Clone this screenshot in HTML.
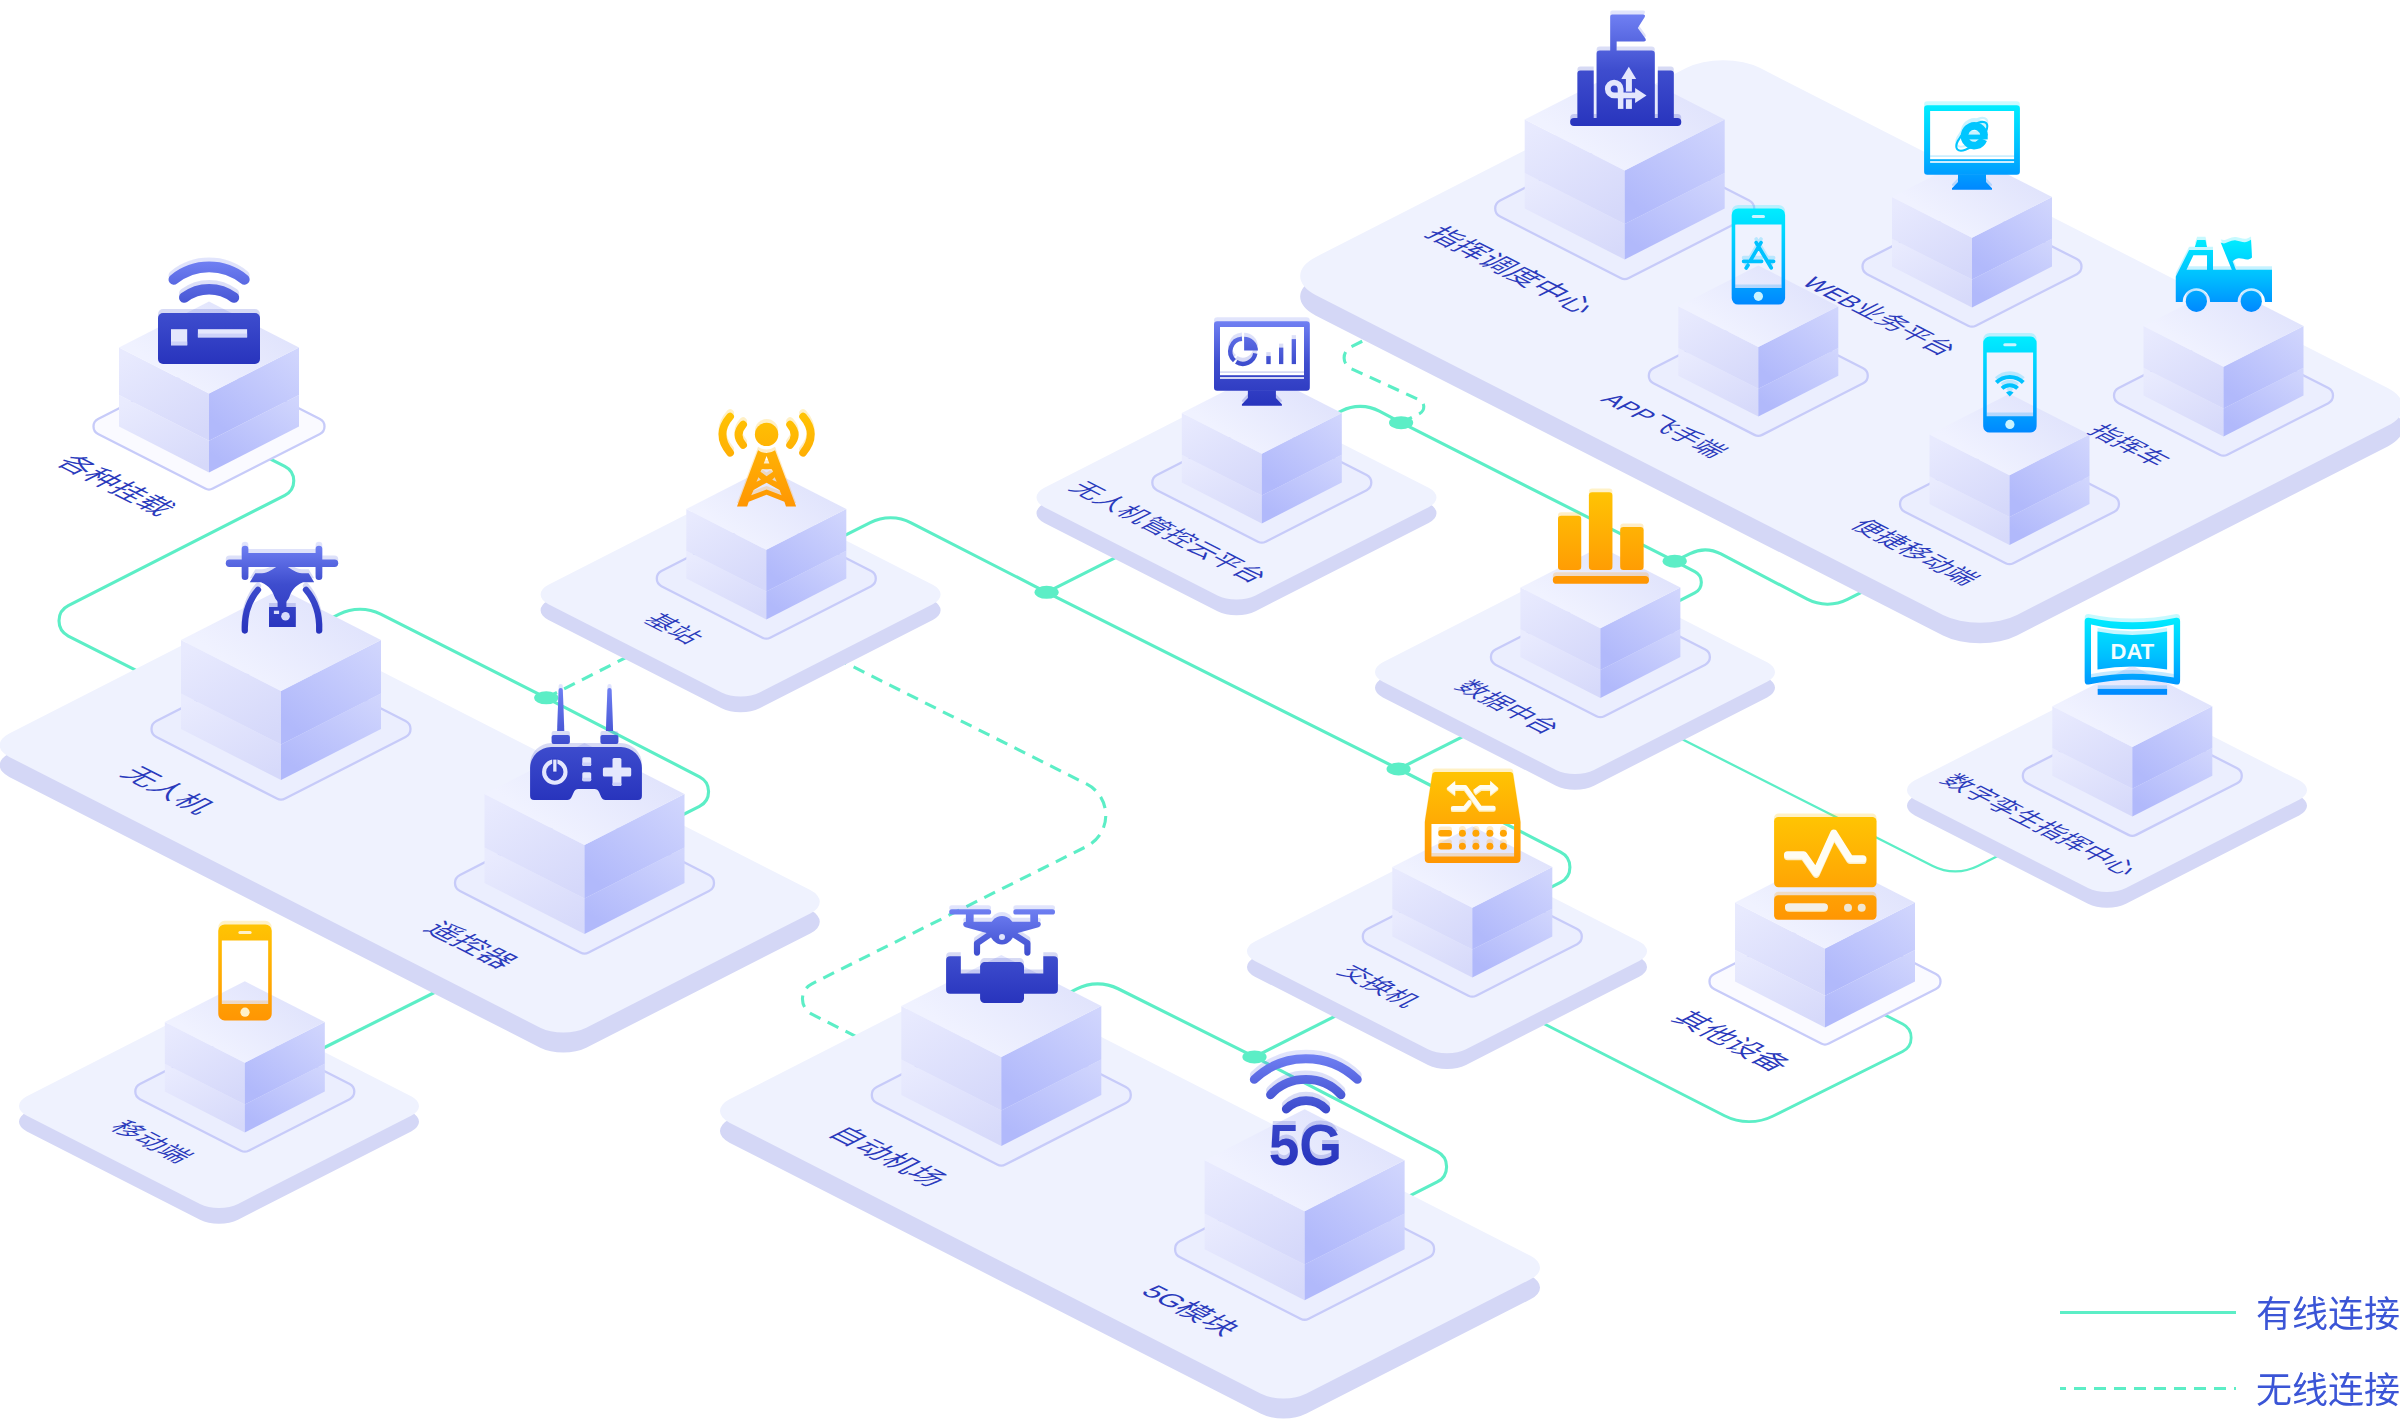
<!DOCTYPE html>
<html lang="zh"><head><meta charset="utf-8"><title>无人机网络拓扑</title>
<style>html,body{margin:0;padding:0;background:#fff}svg{display:block}text{font-family:"Liberation Sans","Noto Sans CJK SC",sans-serif}</style></head>
<body><svg width="2400" height="1420" viewBox="0 0 2400 1420">
<defs>
<filter id="fAA" x="-5%" y="-20%" width="110%" height="140%"><feOffset dx="0" dy="0"/></filter>
<linearGradient id="gT" x1="0.25" y1="0.75" x2="0.9" y2="0.3"><stop offset="0" stop-color="#f0f2ff"/><stop offset="1" stop-color="#e0e3fc"/></linearGradient>
<linearGradient id="gL" x1="0.2" y1="0" x2="0.8" y2="1"><stop offset="0" stop-color="#e8eafe"/><stop offset="1" stop-color="#d5d8fa"/></linearGradient>
<linearGradient id="gL2" x1="0.2" y1="0" x2="0.8" y2="1"><stop offset="0" stop-color="#e9ebfe"/><stop offset="1" stop-color="#d6d9fa"/></linearGradient>
<linearGradient id="gR" x1="0.9" y1="0" x2="0.2" y2="0.9"><stop offset="0" stop-color="#d0d5fd"/><stop offset="1" stop-color="#b1b9fb"/></linearGradient>
<linearGradient id="gR2" x1="0.9" y1="0" x2="0.2" y2="0.9"><stop offset="0" stop-color="#d0d5fd"/><stop offset="1" stop-color="#b1b9fb"/></linearGradient>
<linearGradient id="gi11" gradientUnits="userSpaceOnUse" x1="0" y1="14" x2="0" y2="126"><stop offset="0" stop-color="#7080f3"/><stop offset="0.5" stop-color="#3e4dce"/><stop offset="1" stop-color="#2834bd"/></linearGradient><linearGradient id="gi13" gradientUnits="userSpaceOnUse" x1="0" y1="105.2" x2="0" y2="189.8"><stop offset="0" stop-color="#00edff"/><stop offset="0.5" stop-color="#00c0ff"/><stop offset="1" stop-color="#0088ff"/></linearGradient><linearGradient id="gi12" gradientUnits="userSpaceOnUse" x1="0" y1="208.5" x2="0" y2="304.5"><stop offset="0" stop-color="#00edff"/><stop offset="0.5" stop-color="#00c0ff"/><stop offset="1" stop-color="#0088ff"/></linearGradient><linearGradient id="gi15" gradientUnits="userSpaceOnUse" x1="0" y1="239" x2="0" y2="312"><stop offset="0" stop-color="#00edff"/><stop offset="0.5" stop-color="#00c0ff"/><stop offset="1" stop-color="#0088ff"/></linearGradient><linearGradient id="gi1" gradientUnits="userSpaceOnUse" x1="0" y1="261" x2="0" y2="364"><stop offset="0" stop-color="#7080f3"/><stop offset="0.5" stop-color="#3e4dce"/><stop offset="1" stop-color="#2834bd"/></linearGradient><linearGradient id="gi6" gradientUnits="userSpaceOnUse" x1="0" y1="321.2" x2="0" y2="405.8"><stop offset="0" stop-color="#7080f3"/><stop offset="0.5" stop-color="#3e4dce"/><stop offset="1" stop-color="#2834bd"/></linearGradient><linearGradient id="gi14" gradientUnits="userSpaceOnUse" x1="0" y1="336.6" x2="0" y2="432.6"><stop offset="0" stop-color="#00edff"/><stop offset="0.5" stop-color="#00c0ff"/><stop offset="1" stop-color="#0088ff"/></linearGradient><linearGradient id="gi5" gradientUnits="userSpaceOnUse" x1="0" y1="412" x2="0" y2="507"><stop offset="0" stop-color="#ffc403"/><stop offset="0.5" stop-color="#ffad04"/><stop offset="1" stop-color="#ff9603"/></linearGradient><linearGradient id="gi7" gradientUnits="userSpaceOnUse" x1="0" y1="492" x2="0" y2="584"><stop offset="0" stop-color="#ffc403"/><stop offset="0.5" stop-color="#ffad04"/><stop offset="1" stop-color="#ff9603"/></linearGradient><linearGradient id="gi2" gradientUnits="userSpaceOnUse" x1="0" y1="545" x2="0" y2="632"><stop offset="0" stop-color="#7080f3"/><stop offset="0.45" stop-color="#3e4dce"/><stop offset="1" stop-color="#2834bd"/></linearGradient><linearGradient id="gi10" gradientUnits="userSpaceOnUse" x1="0" y1="617" x2="0" y2="695"><stop offset="0" stop-color="#00edff"/><stop offset="0.5" stop-color="#00c0ff"/><stop offset="1" stop-color="#0088ff"/></linearGradient><linearGradient id="gi3" gradientUnits="userSpaceOnUse" x1="0" y1="687" x2="0" y2="800"><stop offset="0" stop-color="#7080f3"/><stop offset="0.5" stop-color="#3e4dce"/><stop offset="1" stop-color="#2834bd"/></linearGradient><linearGradient id="gi8" gradientUnits="userSpaceOnUse" x1="0" y1="772" x2="0" y2="863"><stop offset="0" stop-color="#ffc403"/><stop offset="0.5" stop-color="#ffad04"/><stop offset="1" stop-color="#ff9603"/></linearGradient><linearGradient id="gi9" gradientUnits="userSpaceOnUse" x1="0" y1="817" x2="0" y2="920"><stop offset="0" stop-color="#ffc403"/><stop offset="0.5" stop-color="#ffad04"/><stop offset="1" stop-color="#ff9603"/></linearGradient><linearGradient id="gi16" gradientUnits="userSpaceOnUse" x1="0" y1="908" x2="0" y2="1003"><stop offset="0" stop-color="#7080f3"/><stop offset="0.5" stop-color="#3e4dce"/><stop offset="1" stop-color="#2834bd"/></linearGradient><linearGradient id="gi4" gradientUnits="userSpaceOnUse" x1="0" y1="924.4" x2="0" y2="1020.4"><stop offset="0" stop-color="#ffc403"/><stop offset="0.5" stop-color="#ffad04"/><stop offset="1" stop-color="#ff9603"/></linearGradient><linearGradient id="gi17" gradientUnits="userSpaceOnUse" x1="0" y1="1054" x2="0" y2="1166"><stop offset="0" stop-color="#7080f3"/><stop offset="0.5" stop-color="#3e4dce"/><stop offset="1" stop-color="#2834bd"/></linearGradient></defs>
<rect width="2400" height="1420" fill="#fff"/>
<!-- lines -->
<path d="M230 438.63 L284.81 466.31 A16.3 16.3 0 0 1 284.86 495.39 L68.27 605.69 A17 17 0 0 0 68.32 636.01 L150 677.26" fill="none" stroke="#5ceec6" stroke-width="3.1"/>
<path d="M310 628.95 L339.26 614.17 A46 46 0 0 1 380.74 614.18 L546.25 697.8 A0 0 0 0 1 546.25 697.8 L699.57 776.8 A16.6 16.6 0 0 1 699.45 806.37 L668 822.25" fill="none" stroke="#5ceec6" stroke-width="3.1"/>
<path d="M546.25 697.8 L700 620.16" fill="none" stroke="#5ceec6" stroke-width="3.1" stroke-dasharray="12 8"/>
<path d="M800 639.97 L1086.5 783.94 A35 35 0 0 1 1086.44 846.52 L811.87 983.77 A17 17 0 0 0 811.8 1014.15 L900 1058.69" fill="none" stroke="#5ceec6" stroke-width="3.1" stroke-dasharray="12 8"/>
<path d="M835 540.43 L870.25 522.63 A45 45 0 0 1 911.08 522.76 L1046.6 592.3 A0 0 0 0 0 1046.6 592.3 L1398.6 769 A0 0 0 0 1 1398.6 769 L1560.66 852.06 A17 17 0 0 1 1560.57 882.36 L1530 897.8" fill="none" stroke="#5ceec6" stroke-width="3.1"/>
<path d="M1046.6 592.3 L1160 535.03" fill="none" stroke="#5ceec6" stroke-width="3.1"/>
<path d="M1320 421.7 L1341.65 410.77 A41 41 0 0 1 1379.35 411.16 L1401.1 422.7 A0 0 0 0 0 1401.1 422.7 L1674.7 561.2 A0 0 0 0 1 1674.7 561.2 L1694.84 571.61 A12 12 0 0 1 1694.74 592.99 L1660 610.53" fill="none" stroke="#5ceec6" stroke-width="3.1"/>
<path d="M1674.7 561.2 L1690.07 553.59 A34 34 0 0 1 1720.95 553.94 L1807.25 599.19 A44 44 0 0 0 1847.51 599.49 L1900 572.99" fill="none" stroke="#5ceec6" stroke-width="3.1"/>
<path d="M1401.1 422.7 L1419.56 413.58 A7.6 7.6 0 0 0 1419.35 399.85 L1351.12 368.68 A12 12 0 0 1 1350.71 347.05 L1375 334.8" fill="none" stroke="#5ceec6" stroke-width="3.1" stroke-dasharray="12 8"/>
<path d="M1398.6 769 L1500 717.79" fill="none" stroke="#5ceec6" stroke-width="3.1"/>
<path d="M1254.5 1056.9 L1380 993.52" fill="none" stroke="#5ceec6" stroke-width="3.1"/>
<path d="M1050 1002.39 L1076.87 988.82 A46 46 0 0 1 1118.17 988.74 L1254.5 1056.9 A0 0 0 0 1 1254.5 1056.9 L1437.4 1151.71 A17 17 0 0 1 1437.24 1181.98 L1390 1205.83" fill="none" stroke="#5ceec6" stroke-width="3.1"/>
<path d="M300 1059.75 L470 974.75" fill="none" stroke="#5ceec6" stroke-width="3.1"/>
<path d="M1620 707.81 L1932.75 865.99 A50 50 0 0 0 1977.86 866.01 L2030 839.68" fill="none" stroke="#5ceec6" stroke-width="2.3"/>
<path d="M1490 996.22 L1724.54 1115.83 A54 54 0 0 0 1773.17 1116.05 L1902.64 1051.49 A15.4 15.4 0 0 0 1902.71 1023.97 L1830 987.25" fill="none" stroke="#5ceec6" stroke-width="2.8"/>
<ellipse cx="546.25" cy="697.8" rx="12.1" ry="6.5" fill="#5ceec6"/>
<ellipse cx="1046.6" cy="592.3" rx="12.1" ry="6.5" fill="#5ceec6"/>
<ellipse cx="1398.6" cy="769" rx="12.1" ry="6.5" fill="#5ceec6"/>
<ellipse cx="1401.1" cy="422.7" rx="12.1" ry="6.5" fill="#5ceec6"/>
<ellipse cx="1674.7" cy="561.2" rx="12.1" ry="6.5" fill="#5ceec6"/>
<ellipse cx="1254.5" cy="1056.9" rx="12.1" ry="6.5" fill="#5ceec6"/>
<rect x="-350.75" y="-222.35" width="701.5" height="444.7" rx="37" fill="#d4d7f6" transform="matrix(1 0.51 -1 0.51 1851.6 362.1)"/>
<rect x="-350.75" y="-222.35" width="701.5" height="444.7" rx="37" fill="#eff2fe" transform="matrix(1 0.51 -1 0.51 1851.6 341.5)"/>
<rect x="-288.5" y="-135" width="577" height="270" rx="23" fill="#d4d7f6" transform="matrix(1 0.51 -1 0.51 409.75 843.5)"/>
<rect x="-288.5" y="-135" width="577" height="270" rx="23" fill="#eff2fe" transform="matrix(1 0.51 -1 0.51 409.75 823.5)"/>
<rect x="-288.5" y="-135" width="577" height="270" rx="23" fill="#d4d7f6" transform="matrix(1 0.51 -1 0.51 1130 1209.3)"/>
<rect x="-288.5" y="-135" width="577" height="270" rx="23" fill="#eff2fe" transform="matrix(1 0.51 -1 0.51 1130 1189.3)"/>
<rect x="-105.57" y="-105.57" width="211.14" height="211.14" rx="19" fill="#d4d7f6" transform="matrix(1 0.51 -1 0.51 740.6 610.2)"/>
<rect x="-105.57" y="-105.57" width="211.14" height="211.14" rx="19" fill="#eff2fe" transform="matrix(1 0.51 -1 0.51 740.6 594.5)"/>
<rect x="-105.57" y="-105.57" width="211.14" height="211.14" rx="19" fill="#d4d7f6" transform="matrix(1 0.51 -1 0.51 219 1121.7)"/>
<rect x="-105.57" y="-105.57" width="211.14" height="211.14" rx="19" fill="#eff2fe" transform="matrix(1 0.51 -1 0.51 219 1106)"/>
<rect x="-105.57" y="-105.57" width="211.14" height="211.14" rx="19" fill="#d4d7f6" transform="matrix(1 0.51 -1 0.51 1236.5 513.2)"/>
<rect x="-105.57" y="-105.57" width="211.14" height="211.14" rx="19" fill="#eff2fe" transform="matrix(1 0.51 -1 0.51 1236.5 497.5)"/>
<rect x="-105.57" y="-105.57" width="211.14" height="211.14" rx="19" fill="#d4d7f6" transform="matrix(1 0.51 -1 0.51 1575 687.7)"/>
<rect x="-105.57" y="-105.57" width="211.14" height="211.14" rx="19" fill="#eff2fe" transform="matrix(1 0.51 -1 0.51 1575 672)"/>
<rect x="-105.57" y="-105.57" width="211.14" height="211.14" rx="19" fill="#d4d7f6" transform="matrix(1 0.51 -1 0.51 1447 966.95)"/>
<rect x="-105.57" y="-105.57" width="211.14" height="211.14" rx="19" fill="#eff2fe" transform="matrix(1 0.51 -1 0.51 1447 951.25)"/>
<rect x="-105.57" y="-105.57" width="211.14" height="211.14" rx="19" fill="#d4d7f6" transform="matrix(1 0.51 -1 0.51 2107 805.7)"/>
<rect x="-105.57" y="-105.57" width="211.14" height="211.14" rx="19" fill="#eff2fe" transform="matrix(1 0.51 -1 0.51 2107 790)"/>
<path d="M1620.57 138.99 A9.09 9.09 0 0 1 1628.83 138.99 L1749.24 200.4 A9.09 9.09 0 0 1 1749.24 216.6 L1628.83 278.01 A9.09 9.09 0 0 1 1620.57 278.01 L1500.16 216.6 A9.09 9.09 0 0 1 1500.16 200.4 Z" fill="#ebeefe" stroke="#c7cbf9" stroke-width="2.3"/>
<polygon points="1524.7,172.9 1624.7,223.9 1624.7,259.5 1524.7,208.5" fill="url(#gL2)"/>
<polygon points="1724.7,172.9 1624.7,223.9 1624.7,259.5 1724.7,208.5" fill="url(#gR2)"/>
<polygon points="1524.7,119.5 1624.7,170.5 1624.7,223.9 1524.7,172.9" fill="url(#gL)"/>
<polygon points="1724.7,119.5 1624.7,170.5 1624.7,223.9 1724.7,172.9" fill="url(#gR)"/>
<polygon points="1624.7,68.5 1724.7,119.5 1624.7,170.5 1524.7,119.5" fill="url(#gT)"/>
<g><g transform="translate(0,-4)" opacity="0.2"><path d="M1610.2 16.6Q1610.2 14.6 1612.2 14.6H1643Q1646 14.6 1644.6 17.2L1637.8 27.9L1645.4 38.6Q1646.8 41.6 1643.6 41.6H1616.6V51H1610.2Z" fill="url(#gi11)"/><path d="M1596.6 118.5V53.8A3.2 3.2 0 0 1 1599.8 50.6H1651.6A3.2 3.2 0 0 1 1654.8 53.8V118.5Z" fill="url(#gi11)"/><path d="M1577.4 118.5V73.5A3 3 0 0 1 1580.4 70.5H1593.7V118.5Z" fill="url(#gi11)"/><path d="M1657.8 118.5V70.5H1670.8A3 3 0 0 1 1673.8 73.5V118.5Z" fill="url(#gi11)"/><rect x="1570.1" y="118.1" width="111.2" height="7.8" rx="3.9" fill="url(#gi11)"/></g><path d="M1610.2 16.6Q1610.2 14.6 1612.2 14.6H1643Q1646 14.6 1644.6 17.2L1637.8 27.9L1645.4 38.6Q1646.8 41.6 1643.6 41.6H1616.6V51H1610.2Z" fill="url(#gi11)"/><path d="M1596.6 118.5V53.8A3.2 3.2 0 0 1 1599.8 50.6H1651.6A3.2 3.2 0 0 1 1654.8 53.8V118.5Z" fill="url(#gi11)"/><path d="M1577.4 118.5V73.5A3 3 0 0 1 1580.4 70.5H1593.7V118.5Z" fill="url(#gi11)"/><path d="M1657.8 118.5V70.5H1670.8A3 3 0 0 1 1673.8 73.5V118.5Z" fill="url(#gi11)"/><rect x="1570.1" y="118.1" width="111.2" height="7.8" rx="3.9" fill="url(#gi11)"/><rect x="1625.9" y="78" width="6" height="30.9" rx="0" fill="#e4e7fd"/><path d="M1628.8 66.8L1636.2 78.9H1621.3Z" fill="#e4e7fd"/><rect x="1617.9" y="96" width="5.5" height="12.9" rx="0" fill="#e4e7fd"/><path d="M1620.6 98.4V88.8A6.4 6.4 0 1 0 1614.2 95.4H1636" fill="none" stroke="#e4e7fd" stroke-width="5.8"/><path d="M1635.1 87.9L1646.5 95.4L1635.1 103Z" fill="#e4e7fd"/><rect x="1625.9" y="91.6" width="6" height="1" rx="0" fill="#3a48ca"/><rect x="1625.9" y="98.3" width="6" height="1" rx="0" fill="#3a48ca"/></g>
<path d="M1968.15 207.53 A8.48 8.48 0 0 1 1975.85 207.53 L2076.87 259.05 A8.48 8.48 0 0 1 2076.87 274.15 L1975.85 325.67 A8.48 8.48 0 0 1 1968.15 325.67 L1867.13 274.15 A8.48 8.48 0 0 1 1867.13 259.05 Z" fill="#ebeefe" stroke="#c7cbf9" stroke-width="2.3"/>
<polygon points="1892,238.76 1972,279.56 1972,307.4 1892,266.6" fill="url(#gL2)"/>
<polygon points="2052,238.76 1972,279.56 1972,307.4 2052,266.6" fill="url(#gR2)"/>
<polygon points="1892,197 1972,237.8 1972,279.56 1892,238.76" fill="url(#gL)"/>
<polygon points="2052,197 1972,237.8 1972,279.56 2052,238.76" fill="url(#gR)"/>
<polygon points="1972,156.2 2052,197 1972,237.8 1892,197" fill="url(#gT)"/>
<g><rect x="1930.1" y="111.1" width="84" height="51.8" rx="0" fill="#fff"/><g transform="translate(0,-4)" opacity="0.2"><path d="M1927.3 105.2H2016.7A3.2 3.2 0 0 1 2019.9 108.4V171.5A3.2 3.2 0 0 1 2016.7 174.7H1927.3A3.2 3.2 0 0 1 1924.1 171.5V108.4A3.2 3.2 0 0 1 1927.3 105.2ZM1930.1 111.1V159.2H2014.1V111.1Z M1930.1 160.9V162.9H2014.1V160.9Z" fill="url(#gi13)" fill-rule="evenodd"/><path d="M1958 174.2H1986V181.9L1992 188.2V189.8H1952V188.2L1958 181.9Z" fill="url(#gi13)"/><path d="M1983.39 139.47A9.8 9.8 0 1 1 1984.09 135.46" fill="none" stroke="#00c6ff" stroke-width="7.6"/><rect x="1966.3" y="134.6" width="21.4" height="4.8" rx="0" fill="#00c6ff"/><ellipse cx="1971.8" cy="136.3" rx="19.5" ry="8.2" fill="none" stroke="#00c6ff" stroke-width="2.1" transform="rotate(-42 1971.8 136.3)"/></g><path d="M1927.3 105.2H2016.7A3.2 3.2 0 0 1 2019.9 108.4V171.5A3.2 3.2 0 0 1 2016.7 174.7H1927.3A3.2 3.2 0 0 1 1924.1 171.5V108.4A3.2 3.2 0 0 1 1927.3 105.2ZM1930.1 111.1V159.2H2014.1V111.1Z M1930.1 160.9V162.9H2014.1V160.9Z" fill="url(#gi13)" fill-rule="evenodd"/><path d="M1958 174.2H1986V181.9L1992 188.2V189.8H1952V188.2L1958 181.9Z" fill="url(#gi13)"/><path d="M1983.39 139.47A9.8 9.8 0 1 1 1984.09 135.46" fill="none" stroke="#00c6ff" stroke-width="7.6"/><rect x="1966.3" y="134.6" width="21.4" height="4.8" rx="0" fill="#00c6ff"/><ellipse cx="1971.8" cy="136.3" rx="19.5" ry="8.2" fill="none" stroke="#00c6ff" stroke-width="2.1" transform="rotate(-42 1971.8 136.3)"/></g>
<path d="M1754.45 316.73 A8.48 8.48 0 0 1 1762.15 316.73 L1863.17 368.25 A8.48 8.48 0 0 1 1863.17 383.35 L1762.15 434.87 A8.48 8.48 0 0 1 1754.45 434.87 L1653.43 383.35 A8.48 8.48 0 0 1 1653.43 368.25 Z" fill="#ebeefe" stroke="#c7cbf9" stroke-width="2.3"/>
<polygon points="1678.3,347.96 1758.3,388.76 1758.3,416.6 1678.3,375.8" fill="url(#gL2)"/>
<polygon points="1838.3,347.96 1758.3,388.76 1758.3,416.6 1838.3,375.8" fill="url(#gR2)"/>
<polygon points="1678.3,306.2 1758.3,347 1758.3,388.76 1678.3,347.96" fill="url(#gL)"/>
<polygon points="1838.3,306.2 1758.3,347 1758.3,388.76 1838.3,347.96" fill="url(#gR)"/>
<polygon points="1758.3,265.4 1838.3,306.2 1758.3,347 1678.3,306.2" fill="url(#gT)"/>
<g><g transform="translate(0,-3.6)" opacity="0.22"><path d="M1738.1 208.5H1778.7A6.4 6.4 0 0 1 1785.1 214.9V298.1A6.4 6.4 0 0 1 1778.7 304.5H1738.1A6.4 6.4 0 0 1 1731.7 298.1V214.9A6.4 6.4 0 0 1 1738.1 208.5ZM1735.2 224.5V288.1H1781.6V224.5Z" fill="url(#gi12)" fill-rule="evenodd"/><path d="M1761 242.6L1750.2 260.9M1748 265.3L1746.2 268M1756.2 242.6L1771.2 267.8M1743.6 261.3H1761.6M1768.4 261.3H1773.6" fill="none" stroke="#00c2ff" stroke-width="3.7" stroke-linecap="round"/></g><path d="M1738.1 208.5H1778.7A6.4 6.4 0 0 1 1785.1 214.9V298.1A6.4 6.4 0 0 1 1778.7 304.5H1738.1A6.4 6.4 0 0 1 1731.7 298.1V214.9A6.4 6.4 0 0 1 1738.1 208.5ZM1735.2 224.5V288.1H1781.6V224.5Z" fill="url(#gi12)" fill-rule="evenodd"/><path d="M1761 242.6L1750.2 260.9M1748 265.3L1746.2 268M1756.2 242.6L1771.2 267.8M1743.6 261.3H1761.6M1768.4 261.3H1773.6" fill="none" stroke="#00c2ff" stroke-width="3.7" stroke-linecap="round"/><rect x="1751.8" y="215.1" width="13.2" height="3" rx="1.5" fill="#c9f4ff"/><circle cx="1758.4" cy="296.3" r="4.6" fill="#c9f4ff"/></g>
<path d="M2219.65 336.53 A8.48 8.48 0 0 1 2227.35 336.53 L2328.37 388.05 A8.48 8.48 0 0 1 2328.37 403.15 L2227.35 454.67 A8.48 8.48 0 0 1 2219.65 454.67 L2118.63 403.15 A8.48 8.48 0 0 1 2118.63 388.05 Z" fill="#ebeefe" stroke="#c7cbf9" stroke-width="2.3"/>
<polygon points="2143.5,367.76 2223.5,408.56 2223.5,436.4 2143.5,395.6" fill="url(#gL2)"/>
<polygon points="2303.5,367.76 2223.5,408.56 2223.5,436.4 2303.5,395.6" fill="url(#gR2)"/>
<polygon points="2143.5,326 2223.5,366.8 2223.5,408.56 2143.5,367.76" fill="url(#gL)"/>
<polygon points="2303.5,326 2223.5,366.8 2223.5,408.56 2303.5,367.76" fill="url(#gR)"/>
<polygon points="2223.5,285.2 2303.5,326 2223.5,366.8 2143.5,326" fill="url(#gT)"/>
<g><g transform="translate(0,-3.4)" opacity="0.22"><path d="M2197.1 240.1H2205.5L2207 246.9H2194.8Z" fill="url(#gi15)"/><path d="M2220.7 242.6C2226 245.5 2229.5 239.6 2236 240.4C2241.5 241.2 2245 244.2 2251 239.8L2252 257.4C2247.5 261.5 2243.5 258 2238.5 258.3C2235.5 258.5 2234 260.4 2232.6 261.2L2236 269.9H2231.9Z" fill="url(#gi15)"/><path d="M2175.8 301.9V276.5L2189.1 250.1H2213V269.7H2272V301.9H2265A13.7 13.7 0 0 0 2237.6 301.9H2210.1A13.7 13.7 0 0 0 2182.7 301.9ZM2193.4 255.2L2186.5 269.7H2207V255.2Z" fill="url(#gi15)" fill-rule="evenodd"/><circle cx="2196.4" cy="301.3" r="10.6" fill="url(#gi15)"/><circle cx="2251.3" cy="301.3" r="10.6" fill="url(#gi15)"/></g><path d="M2197.1 240.1H2205.5L2207 246.9H2194.8Z" fill="url(#gi15)"/><path d="M2220.7 242.6C2226 245.5 2229.5 239.6 2236 240.4C2241.5 241.2 2245 244.2 2251 239.8L2252 257.4C2247.5 261.5 2243.5 258 2238.5 258.3C2235.5 258.5 2234 260.4 2232.6 261.2L2236 269.9H2231.9Z" fill="url(#gi15)"/><path d="M2175.8 301.9V276.5L2189.1 250.1H2213V269.7H2272V301.9H2265A13.7 13.7 0 0 0 2237.6 301.9H2210.1A13.7 13.7 0 0 0 2182.7 301.9ZM2193.4 255.2L2186.5 269.7H2207V255.2Z" fill="url(#gi15)" fill-rule="evenodd"/><circle cx="2196.4" cy="301.3" r="10.6" fill="url(#gi15)"/><circle cx="2251.3" cy="301.3" r="10.6" fill="url(#gi15)"/></g>
<path d="M205.2 364.41 A8.36 8.36 0 0 1 212.8 364.41 L319.94 419.06 A8.36 8.36 0 0 1 319.94 433.94 L212.8 488.59 A8.36 8.36 0 0 1 205.2 488.59 L98.06 433.94 A8.36 8.36 0 0 1 98.06 419.06 Z" fill="#fafaff" stroke="#c7cbf9" stroke-width="2.3"/>
<polygon points="119,394.9 209,440.8 209,472.4 119,426.5" fill="url(#gL2)"/>
<polygon points="299,394.9 209,440.8 209,472.4 299,426.5" fill="url(#gR2)"/>
<polygon points="119,347.5 209,393.4 209,440.8 119,394.9" fill="url(#gL)"/>
<polygon points="299,347.5 209,393.4 209,440.8 299,394.9" fill="url(#gR)"/>
<polygon points="209,301.6 299,347.5 209,393.4 119,347.5" fill="url(#gT)"/>
<g><g transform="translate(0,-4)" opacity="0.2"><path d="M173.8 279.5A55.75 55.75 0 0 1 244.4 279.5" fill="none" stroke="url(#gi1)" stroke-width="10.6" stroke-linecap="round"/><path d="M184.3 297.5A41.2 41.2 0 0 1 233.9 297.5" fill="none" stroke="url(#gi1)" stroke-width="10.6" stroke-linecap="round"/><rect x="158" y="313" width="102" height="51" rx="5" fill="url(#gi1)"/></g><path d="M173.8 279.5A55.75 55.75 0 0 1 244.4 279.5" fill="none" stroke="url(#gi1)" stroke-width="10.6" stroke-linecap="round"/><path d="M184.3 297.5A41.2 41.2 0 0 1 233.9 297.5" fill="none" stroke="url(#gi1)" stroke-width="10.6" stroke-linecap="round"/><rect x="158" y="313" width="102" height="51" rx="5" fill="url(#gi1)"/><rect x="171" y="329.2" width="16.2" height="16.1" rx="0" fill="#e4e7fd"/><rect x="171" y="341.5" width="16.2" height="3.8" rx="0" fill="#cdd2f9"/><rect x="197.9" y="329.2" width="49.2" height="8.2" rx="0" fill="#e4e7fd"/><rect x="197.9" y="333.6" width="49.2" height="3.8" rx="0" fill="#cdd2f9"/></g>
<path d="M1257.95 423.53 A8.48 8.48 0 0 1 1265.65 423.53 L1366.67 475.05 A8.48 8.48 0 0 1 1366.67 490.15 L1265.65 541.67 A8.48 8.48 0 0 1 1257.95 541.67 L1156.93 490.15 A8.48 8.48 0 0 1 1156.93 475.05 Z" fill="#ebeefe" stroke="#c7cbf9" stroke-width="2.3"/>
<polygon points="1181.8,454.76 1261.8,495.56 1261.8,523.4 1181.8,482.6" fill="url(#gL2)"/>
<polygon points="1341.8,454.76 1261.8,495.56 1261.8,523.4 1341.8,482.6" fill="url(#gR2)"/>
<polygon points="1181.8,413 1261.8,453.8 1261.8,495.56 1181.8,454.76" fill="url(#gL)"/>
<polygon points="1341.8,413 1261.8,453.8 1261.8,495.56 1341.8,454.76" fill="url(#gR)"/>
<polygon points="1261.8,372.2 1341.8,413 1261.8,453.8 1181.8,413" fill="url(#gT)"/>
<g><rect x="1220" y="327.1" width="84" height="51.8" rx="0" fill="#fff"/><g transform="translate(0,-4)" opacity="0.2"><path d="M1217.2 321.2H1306.6A3.2 3.2 0 0 1 1309.8 324.4V387.5A3.2 3.2 0 0 1 1306.6 390.7H1217.2A3.2 3.2 0 0 1 1214 387.5V324.4A3.2 3.2 0 0 1 1217.2 321.2ZM1220 327.1V375.2H1304V327.1Z M1220 376.9V378.9H1304V376.9Z" fill="url(#gi6)" fill-rule="evenodd"/><path d="M1247.9 390.2H1275.9V397.9L1281.9 404.2V405.8H1241.9V404.2L1247.9 397.9Z" fill="url(#gi6)"/><path d="M1255.31 353.49A12.6 12.6 0 0 1 1236.22 361.99" fill="none" stroke="url(#gi6)" stroke-width="4.4"/><path d="M1234.47 360.66A12.6 12.6 0 0 1 1242.02 338.73" fill="none" stroke="url(#gi6)" stroke-width="4.4"/><path d="M1244.1 350.6V336.8A13.8 13.8 0 0 1 1257.9 350.6Z" fill="url(#gi6)"/><rect x="1266.3" y="356.1" width="4.4" height="8" rx="0" fill="url(#gi6)"/><rect x="1279" y="347.6" width="4.3" height="16.5" rx="0" fill="url(#gi6)"/><rect x="1291.7" y="339.1" width="4.3" height="25" rx="0" fill="url(#gi6)"/></g><path d="M1217.2 321.2H1306.6A3.2 3.2 0 0 1 1309.8 324.4V387.5A3.2 3.2 0 0 1 1306.6 390.7H1217.2A3.2 3.2 0 0 1 1214 387.5V324.4A3.2 3.2 0 0 1 1217.2 321.2ZM1220 327.1V375.2H1304V327.1Z M1220 376.9V378.9H1304V376.9Z" fill="url(#gi6)" fill-rule="evenodd"/><path d="M1247.9 390.2H1275.9V397.9L1281.9 404.2V405.8H1241.9V404.2L1247.9 397.9Z" fill="url(#gi6)"/><path d="M1255.31 353.49A12.6 12.6 0 0 1 1236.22 361.99" fill="none" stroke="url(#gi6)" stroke-width="4.4"/><path d="M1234.47 360.66A12.6 12.6 0 0 1 1242.02 338.73" fill="none" stroke="url(#gi6)" stroke-width="4.4"/><path d="M1244.1 350.6V336.8A13.8 13.8 0 0 1 1257.9 350.6Z" fill="url(#gi6)"/><rect x="1266.3" y="356.1" width="4.4" height="8" rx="0" fill="url(#gi6)"/><rect x="1279" y="347.6" width="4.3" height="16.5" rx="0" fill="url(#gi6)"/><rect x="1291.7" y="339.1" width="4.3" height="25" rx="0" fill="url(#gi6)"/></g>
<path d="M2005.65 445.03 A8.48 8.48 0 0 1 2013.35 445.03 L2114.37 496.55 A8.48 8.48 0 0 1 2114.37 511.65 L2013.35 563.17 A8.48 8.48 0 0 1 2005.65 563.17 L1904.63 511.65 A8.48 8.48 0 0 1 1904.63 496.55 Z" fill="#ebeefe" stroke="#c7cbf9" stroke-width="2.3"/>
<polygon points="1929.5,476.26 2009.5,517.06 2009.5,544.9 1929.5,504.1" fill="url(#gL2)"/>
<polygon points="2089.5,476.26 2009.5,517.06 2009.5,544.9 2089.5,504.1" fill="url(#gR2)"/>
<polygon points="1929.5,434.5 2009.5,475.3 2009.5,517.06 1929.5,476.26" fill="url(#gL)"/>
<polygon points="2089.5,434.5 2009.5,475.3 2009.5,517.06 2089.5,476.26" fill="url(#gR)"/>
<polygon points="2009.5,393.7 2089.5,434.5 2009.5,475.3 1929.5,434.5" fill="url(#gT)"/>
<g><g transform="translate(0,-3.6)" opacity="0.22"><path d="M1989.6 336.6H2030.2A6.4 6.4 0 0 1 2036.6 343V426.2A6.4 6.4 0 0 1 2030.2 432.6H1989.6A6.4 6.4 0 0 1 1983.2 426.2V343A6.4 6.4 0 0 1 1989.6 336.6ZM1986.7 352.6V416.2H2033.1V352.6Z" fill="url(#gi14)" fill-rule="evenodd"/><path d="M1996.32 382.44A19.4 19.4 0 0 1 2023.28 382.44" fill="none" stroke="#00c2ff" stroke-width="4.1"/><path d="M2002.02 388.34A11.2 11.2 0 0 1 2017.58 388.34" fill="none" stroke="#00c2ff" stroke-width="3.9"/><path d="M2006.05 392.52A5.4 5.4 0 0 1 2013.55 392.52L2009.8 396.4Z" fill="#00c2ff"/></g><path d="M1989.6 336.6H2030.2A6.4 6.4 0 0 1 2036.6 343V426.2A6.4 6.4 0 0 1 2030.2 432.6H1989.6A6.4 6.4 0 0 1 1983.2 426.2V343A6.4 6.4 0 0 1 1989.6 336.6ZM1986.7 352.6V416.2H2033.1V352.6Z" fill="url(#gi14)" fill-rule="evenodd"/><path d="M1996.32 382.44A19.4 19.4 0 0 1 2023.28 382.44" fill="none" stroke="#00c2ff" stroke-width="4.1"/><path d="M2002.02 388.34A11.2 11.2 0 0 1 2017.58 388.34" fill="none" stroke="#00c2ff" stroke-width="3.9"/><path d="M2006.05 392.52A5.4 5.4 0 0 1 2013.55 392.52L2009.8 396.4Z" fill="#00c2ff"/><rect x="2003.3" y="343.2" width="13.2" height="3" rx="1.5" fill="#c9f4ff"/><circle cx="2009.9" cy="424.4" r="4.6" fill="#c9f4ff"/></g>
<path d="M762.45 519.53 A8.48 8.48 0 0 1 770.15 519.53 L871.17 571.05 A8.48 8.48 0 0 1 871.17 586.15 L770.15 637.67 A8.48 8.48 0 0 1 762.45 637.67 L661.43 586.15 A8.48 8.48 0 0 1 661.43 571.05 Z" fill="#ebeefe" stroke="#c7cbf9" stroke-width="2.3"/>
<polygon points="686.3,550.76 766.3,591.56 766.3,619.4 686.3,578.6" fill="url(#gL2)"/>
<polygon points="846.3,550.76 766.3,591.56 766.3,619.4 846.3,578.6" fill="url(#gR2)"/>
<polygon points="686.3,509 766.3,549.8 766.3,591.56 686.3,550.76" fill="url(#gL)"/>
<polygon points="846.3,509 766.3,549.8 766.3,591.56 846.3,550.76" fill="url(#gR)"/>
<polygon points="766.3,468.2 846.3,509 766.3,549.8 686.3,509" fill="url(#gT)"/>
<g><g transform="translate(0,-3.6)" opacity="0.22"><circle cx="766.6" cy="434.4" r="11.7" fill="url(#gi5)"/><path d="M758.06 450.23Q766.57 455.9 775.07 450.23L796.14 506.53L786.01 506.53L784.39 501.67L766.57 494.78L748.75 501.67L747.13 506.53L737 506.53ZM766.57 455.9L769.4 463.59L763.73 463.59ZM761.71 469.26L771.83 469.26L773.05 471.69L766.57 476.15L760.49 471.69ZM758.47 477.37L760.9 479.8L756.44 481.82ZM774.67 477.37L772.24 479.8L776.69 481.82ZM766.57 482.63L779.53 489.92L781.56 495.19L766.57 489.52L751.18 495.19L753.61 489.92Z" fill="url(#gi5)" fill-rule="evenodd"/><path d="M743.1 424.7Q734 434.8 743.1 445" fill="none" stroke="url(#gi5)" stroke-width="7.7" stroke-linecap="round"/><path d="M790.1 424.7Q799.2 434.8 790.1 445" fill="none" stroke="url(#gi5)" stroke-width="7.7" stroke-linecap="round"/><path d="M730.1 416.6Q714.7 434.5 730.1 452.7" fill="none" stroke="url(#gi5)" stroke-width="7.7" stroke-linecap="round"/><path d="M803.1 416.6Q818.5 434.5 803.1 452.7" fill="none" stroke="url(#gi5)" stroke-width="7.7" stroke-linecap="round"/></g><circle cx="766.6" cy="434.4" r="11.7" fill="url(#gi5)"/><path d="M758.06 450.23Q766.57 455.9 775.07 450.23L796.14 506.53L786.01 506.53L784.39 501.67L766.57 494.78L748.75 501.67L747.13 506.53L737 506.53ZM766.57 455.9L769.4 463.59L763.73 463.59ZM761.71 469.26L771.83 469.26L773.05 471.69L766.57 476.15L760.49 471.69ZM758.47 477.37L760.9 479.8L756.44 481.82ZM774.67 477.37L772.24 479.8L776.69 481.82ZM766.57 482.63L779.53 489.92L781.56 495.19L766.57 489.52L751.18 495.19L753.61 489.92Z" fill="url(#gi5)" fill-rule="evenodd"/><path d="M743.1 424.7Q734 434.8 743.1 445" fill="none" stroke="url(#gi5)" stroke-width="7.7" stroke-linecap="round"/><path d="M790.1 424.7Q799.2 434.8 790.1 445" fill="none" stroke="url(#gi5)" stroke-width="7.7" stroke-linecap="round"/><path d="M730.1 416.6Q714.7 434.5 730.1 452.7" fill="none" stroke="url(#gi5)" stroke-width="7.7" stroke-linecap="round"/><path d="M803.1 416.6Q818.5 434.5 803.1 452.7" fill="none" stroke="url(#gi5)" stroke-width="7.7" stroke-linecap="round"/></g>
<path d="M1596.55 598.03 A8.48 8.48 0 0 1 1604.25 598.03 L1705.27 649.55 A8.48 8.48 0 0 1 1705.27 664.65 L1604.25 716.17 A8.48 8.48 0 0 1 1596.55 716.17 L1495.53 664.65 A8.48 8.48 0 0 1 1495.53 649.55 Z" fill="#ebeefe" stroke="#c7cbf9" stroke-width="2.3"/>
<polygon points="1520.4,629.26 1600.4,670.06 1600.4,697.9 1520.4,657.1" fill="url(#gL2)"/>
<polygon points="1680.4,629.26 1600.4,670.06 1600.4,697.9 1680.4,657.1" fill="url(#gR2)"/>
<polygon points="1520.4,587.5 1600.4,628.3 1600.4,670.06 1520.4,629.26" fill="url(#gL)"/>
<polygon points="1680.4,587.5 1600.4,628.3 1600.4,670.06 1680.4,629.26" fill="url(#gR)"/>
<polygon points="1600.4,546.7 1680.4,587.5 1600.4,628.3 1520.4,587.5" fill="url(#gT)"/>
<g><g transform="translate(0,-3.6)" opacity="0.22"><rect x="1558" y="515.8" width="23.2" height="54.2" rx="3.2" fill="url(#gi7)"/><rect x="1588.9" y="492.2" width="23.5" height="77.8" rx="3.2" fill="url(#gi7)"/><rect x="1620.2" y="527.1" width="23.4" height="42.9" rx="3.2" fill="url(#gi7)"/><rect x="1552.8" y="575.9" width="96.2" height="7.9" rx="3.9" fill="url(#gi7)"/></g><rect x="1558" y="515.8" width="23.2" height="54.2" rx="3.2" fill="url(#gi7)"/><rect x="1588.9" y="492.2" width="23.5" height="77.8" rx="3.2" fill="url(#gi7)"/><rect x="1620.2" y="527.1" width="23.4" height="42.9" rx="3.2" fill="url(#gi7)"/><rect x="1552.8" y="575.9" width="96.2" height="7.9" rx="3.9" fill="url(#gi7)"/></g>
<path d="M276.87 659.49 A9.09 9.09 0 0 1 285.13 659.49 L405.54 720.9 A9.09 9.09 0 0 1 405.54 737.1 L285.13 798.51 A9.09 9.09 0 0 1 276.87 798.51 L156.46 737.1 A9.09 9.09 0 0 1 156.46 720.9 Z" fill="#ebeefe" stroke="#c7cbf9" stroke-width="2.3"/>
<polygon points="181,693.4 281,744.4 281,780 181,729" fill="url(#gL2)"/>
<polygon points="381,693.4 281,744.4 281,780 381,729" fill="url(#gR2)"/>
<polygon points="181,640 281,691 281,744.4 181,693.4" fill="url(#gL)"/>
<polygon points="381,640 281,691 281,744.4 381,693.4" fill="url(#gR)"/>
<polygon points="281,589 381,640 281,691 181,640" fill="url(#gT)"/>
<g><g transform="translate(0,-4)" opacity="0.2"><rect x="225.8" y="559.6" width="112.4" height="7.3" rx="3.6" fill="url(#gi2)"/><rect x="248" y="553" width="68" height="8" rx="0" fill="url(#gi2)"/><rect x="241.7" y="545.8" width="6.7" height="34.2" rx="3.3" fill="url(#gi2)"/><rect x="315.6" y="545.8" width="6.7" height="34.2" rx="3.3" fill="url(#gi2)"/><path d="M278.0 566 C272.0 569 268.0 573.3 262.0 573.3 L255.3 573.3 L249.8 582.2 L261.0 582.2 C270.0 586 273.0 592 274.6 597 C275.5 600 277.4 600.6 277.6 602 L277.6 607 L286.4 607 L286.4 602 C286.6 600.6 288.5 600 289.4 597 C291.0 592 294.0 586 303.0 582.2 L314.2 582.2 L308.7 573.3 L302.0 573.3 C296.0 573.3 292.0 569 286.0 566 Z" fill="url(#gi2)"/><path d="M258 589.8Q244 606 244.8 630.5" fill="none" stroke="url(#gi2)" stroke-width="6.3" stroke-linecap="round"/><path d="M306 589.8Q320 606 319.2 630.5" fill="none" stroke="url(#gi2)" stroke-width="6.3" stroke-linecap="round"/><rect x="269" y="607" width="26.8" height="20" rx="0" fill="url(#gi2)"/></g><rect x="225.8" y="559.6" width="112.4" height="7.3" rx="3.6" fill="url(#gi2)"/><rect x="248" y="553" width="68" height="8" rx="0" fill="url(#gi2)"/><rect x="241.7" y="545.8" width="6.7" height="34.2" rx="3.3" fill="url(#gi2)"/><rect x="315.6" y="545.8" width="6.7" height="34.2" rx="3.3" fill="url(#gi2)"/><path d="M278.0 566 C272.0 569 268.0 573.3 262.0 573.3 L255.3 573.3 L249.8 582.2 L261.0 582.2 C270.0 586 273.0 592 274.6 597 C275.5 600 277.4 600.6 277.6 602 L277.6 607 L286.4 607 L286.4 602 C286.6 600.6 288.5 600 289.4 597 C291.0 592 294.0 586 303.0 582.2 L314.2 582.2 L308.7 573.3 L302.0 573.3 C296.0 573.3 292.0 569 286.0 566 Z" fill="url(#gi2)"/><path d="M258 589.8Q244 606 244.8 630.5" fill="none" stroke="url(#gi2)" stroke-width="6.3" stroke-linecap="round"/><path d="M306 589.8Q320 606 319.2 630.5" fill="none" stroke="url(#gi2)" stroke-width="6.3" stroke-linecap="round"/><rect x="269" y="607" width="26.8" height="20" rx="0" fill="url(#gi2)"/><rect x="273.9" y="610.7" width="5.2" height="3.3" rx="0" fill="#d9ddfb"/><circle cx="285.5" cy="616.2" r="4.3" fill="#d9ddfb"/></g>
<path d="M2128.45 716.73 A8.48 8.48 0 0 1 2136.15 716.73 L2237.17 768.25 A8.48 8.48 0 0 1 2237.17 783.35 L2136.15 834.87 A8.48 8.48 0 0 1 2128.45 834.87 L2027.43 783.35 A8.48 8.48 0 0 1 2027.43 768.25 Z" fill="#ebeefe" stroke="#c7cbf9" stroke-width="2.3"/>
<polygon points="2052.3,747.96 2132.3,788.76 2132.3,816.6 2052.3,775.8" fill="url(#gL2)"/>
<polygon points="2212.3,747.96 2132.3,788.76 2132.3,816.6 2212.3,775.8" fill="url(#gR2)"/>
<polygon points="2052.3,706.2 2132.3,747 2132.3,788.76 2052.3,747.96" fill="url(#gL)"/>
<polygon points="2212.3,706.2 2132.3,747 2132.3,788.76 2212.3,747.96" fill="url(#gR)"/>
<polygon points="2132.3,665.4 2212.3,706.2 2132.3,747 2052.3,706.2" fill="url(#gT)"/>
<g><g transform="translate(0,-3.6)" opacity="0.22"><path d="M2084.7 621.3Q2084.7 617.3 2088.7 617.7Q2132.4 626.7 2176.1 617.7Q2180.1 617.3 2180.1 621.3V680.9Q2180.1 684.9 2176.1 684.5Q2132.4 675.1 2088.7 684.5Q2084.7 684.9 2084.7 680.9ZM2091 624.4Q2132.4 634.2 2173.8 624.4V677.5Q2132.4 669.9 2091 677.5Z" fill="url(#gi10)" fill-rule="evenodd"/><path d="M2097.5 631.4Q2132.3 638.4 2167.1 631.4V669.4Q2132.3 663.8 2097.5 669.4Z" fill="url(#gi10)"/><rect x="2097.7" y="688.9" width="69.4" height="5.9" rx="0" fill="url(#gi10)"/></g><path d="M2084.7 621.3Q2084.7 617.3 2088.7 617.7Q2132.4 626.7 2176.1 617.7Q2180.1 617.3 2180.1 621.3V680.9Q2180.1 684.9 2176.1 684.5Q2132.4 675.1 2088.7 684.5Q2084.7 684.9 2084.7 680.9ZM2091 624.4Q2132.4 634.2 2173.8 624.4V677.5Q2132.4 669.9 2091 677.5Z" fill="url(#gi10)" fill-rule="evenodd"/><path d="M2097.5 631.4Q2132.3 638.4 2167.1 631.4V669.4Q2132.3 663.8 2097.5 669.4Z" fill="url(#gi10)"/><rect x="2097.7" y="688.9" width="69.4" height="5.9" rx="0" fill="url(#gi10)"/><text x="2132.4" y="658.8" font-size="22" font-weight="700" fill="#f2fdff" text-anchor="middle" textLength="43.6" lengthAdjust="spacingAndGlyphs">DAT</text></g>
<path d="M580.37 813.49 A9.09 9.09 0 0 1 588.63 813.49 L709.04 874.9 A9.09 9.09 0 0 1 709.04 891.1 L588.63 952.51 A9.09 9.09 0 0 1 580.37 952.51 L459.96 891.1 A9.09 9.09 0 0 1 459.96 874.9 Z" fill="#ebeefe" stroke="#c7cbf9" stroke-width="2.3"/>
<polygon points="484.5,847.4 584.5,898.4 584.5,934 484.5,883" fill="url(#gL2)"/>
<polygon points="684.5,847.4 584.5,898.4 584.5,934 684.5,883" fill="url(#gR2)"/>
<polygon points="484.5,794 584.5,845 584.5,898.4 484.5,847.4" fill="url(#gL)"/>
<polygon points="684.5,794 584.5,845 584.5,898.4 684.5,847.4" fill="url(#gR)"/>
<polygon points="584.5,743 684.5,794 584.5,845 484.5,794" fill="url(#gT)"/>
<g><g transform="translate(0,-4)" opacity="0.2"><path d="M530.1 796 L530.1 768 A21 21 0 0 1 551.1 747.1 L620.9 747.1 A21 21 0 0 1 641.9 768 L641.9 796 A4 4 0 0 1 637.9 800 L605.5 800 Q602.5 800 601.2 797 L599 792 Q597.6 789 594.6 789 L578.2 789 Q575.2 789 573.9 792 L571.6 797 Q570.3 800 567.3 800 L534.1 800 A4 4 0 0 1 530.1 796 Z" fill="url(#gi3)"/><rect x="551.6" y="735" width="18.3" height="8.9" rx="2" fill="url(#gi3)"/><rect x="600.4" y="735" width="18" height="8.9" rx="2" fill="url(#gi3)"/><path d="M557.1 731 L558.6 690 A2.1 2.1 0 0 1 562.8 690 L564.3 731 Z" fill="url(#gi3)"/><path d="M605.9 731 L607.4 690 A2.1 2.1 0 0 1 611.6 690 L613.1 731 Z" fill="url(#gi3)"/></g><path d="M530.1 796 L530.1 768 A21 21 0 0 1 551.1 747.1 L620.9 747.1 A21 21 0 0 1 641.9 768 L641.9 796 A4 4 0 0 1 637.9 800 L605.5 800 Q602.5 800 601.2 797 L599 792 Q597.6 789 594.6 789 L578.2 789 Q575.2 789 573.9 792 L571.6 797 Q570.3 800 567.3 800 L534.1 800 A4 4 0 0 1 530.1 796 Z" fill="url(#gi3)"/><rect x="551.6" y="735" width="18.3" height="8.9" rx="2" fill="url(#gi3)"/><rect x="600.4" y="735" width="18" height="8.9" rx="2" fill="url(#gi3)"/><path d="M557.1 731 L558.6 690 A2.1 2.1 0 0 1 562.8 690 L564.3 731 Z" fill="url(#gi3)"/><path d="M605.9 731 L607.4 690 A2.1 2.1 0 0 1 611.6 690 L613.1 731 Z" fill="url(#gi3)"/><circle cx="554.8" cy="772" r="10.7" fill="none" stroke="#e4e7fd" stroke-width="4.1"/><rect x="552.2" y="758.5" width="5.2" height="14.1" rx="0" fill="#2f3dc4"/><rect x="553.2" y="759.6" width="3.3" height="12" rx="0" fill="#e4e7fd"/><rect x="582.3" y="757.2" width="8.9" height="8.9" rx="1.5" fill="#e4e7fd"/><rect x="582.3" y="772.2" width="8.9" height="9" rx="1.5" fill="#e4e7fd"/><rect x="602.9" y="767.6" width="28.3" height="9" rx="1.5" fill="#e4e7fd"/><rect x="612.5" y="758.1" width="8.9" height="27.9" rx="1.5" fill="#e4e7fd"/><rect x="582.3" y="762.6" width="8.9" height="3.5" rx="1.5" fill="#cdd2f9"/><rect x="582.3" y="777.7" width="8.9" height="3.5" rx="1.5" fill="#cdd2f9"/><rect x="612.5" y="782.6" width="8.9" height="3.4" rx="1.5" fill="#cdd2f9"/></g>
<path d="M1468.45 877.53 A8.48 8.48 0 0 1 1476.15 877.53 L1577.17 929.05 A8.48 8.48 0 0 1 1577.17 944.15 L1476.15 995.67 A8.48 8.48 0 0 1 1468.45 995.67 L1367.43 944.15 A8.48 8.48 0 0 1 1367.43 929.05 Z" fill="#ebeefe" stroke="#c7cbf9" stroke-width="2.3"/>
<polygon points="1392.3,908.76 1472.3,949.56 1472.3,977.4 1392.3,936.6" fill="url(#gL2)"/>
<polygon points="1552.3,908.76 1472.3,949.56 1472.3,977.4 1552.3,936.6" fill="url(#gR2)"/>
<polygon points="1392.3,867 1472.3,907.8 1472.3,949.56 1392.3,908.76" fill="url(#gL)"/>
<polygon points="1552.3,867 1472.3,907.8 1472.3,949.56 1552.3,908.76" fill="url(#gR)"/>
<polygon points="1472.3,826.2 1552.3,867 1472.3,907.8 1392.3,867" fill="url(#gT)"/>
<g><g transform="translate(0,-3.6)" opacity="0.22"><path d="M1435.3 772H1510.1Q1512.8 772 1513.2 774.8L1520.5 822V858.9A4 4 0 0 1 1516.5 862.9H1428.8A4 4 0 0 1 1424.8 858.9V822L1432.2 774.8Q1432.6 772 1435.3 772ZM1431.4 823.9V856.5H1514.1V823.9Z" fill="url(#gi8)" fill-rule="evenodd"/><rect x="1438.3" y="830" width="13.6" height="6.4" rx="2.6" fill="url(#gi8)"/><circle cx="1462.4" cy="833.2" r="3.5" fill="url(#gi8)"/><circle cx="1475.9" cy="833.2" r="3.5" fill="url(#gi8)"/><circle cx="1489.9" cy="833.2" r="3.5" fill="url(#gi8)"/><circle cx="1503.4" cy="833.2" r="3.5" fill="url(#gi8)"/><rect x="1438.3" y="843" width="13.6" height="6.4" rx="2.6" fill="url(#gi8)"/><circle cx="1462.4" cy="846.2" r="3.5" fill="url(#gi8)"/><circle cx="1475.9" cy="846.2" r="3.5" fill="url(#gi8)"/><circle cx="1489.9" cy="846.2" r="3.5" fill="url(#gi8)"/><circle cx="1503.4" cy="846.2" r="3.5" fill="url(#gi8)"/></g><path d="M1435.3 772H1510.1Q1512.8 772 1513.2 774.8L1520.5 822V858.9A4 4 0 0 1 1516.5 862.9H1428.8A4 4 0 0 1 1424.8 858.9V822L1432.2 774.8Q1432.6 772 1435.3 772ZM1431.4 823.9V856.5H1514.1V823.9Z" fill="url(#gi8)" fill-rule="evenodd"/><rect x="1438.3" y="830" width="13.6" height="6.4" rx="2.6" fill="url(#gi8)"/><circle cx="1462.4" cy="833.2" r="3.5" fill="url(#gi8)"/><circle cx="1475.9" cy="833.2" r="3.5" fill="url(#gi8)"/><circle cx="1489.9" cy="833.2" r="3.5" fill="url(#gi8)"/><circle cx="1503.4" cy="833.2" r="3.5" fill="url(#gi8)"/><rect x="1438.3" y="843" width="13.6" height="6.4" rx="2.6" fill="url(#gi8)"/><circle cx="1462.4" cy="846.2" r="3.5" fill="url(#gi8)"/><circle cx="1475.9" cy="846.2" r="3.5" fill="url(#gi8)"/><circle cx="1489.9" cy="846.2" r="3.5" fill="url(#gi8)"/><circle cx="1503.4" cy="846.2" r="3.5" fill="url(#gi8)"/><g transform="translate(0,1.6)"><path d="M1454.5 787.3H1465.3L1480.3 808H1493.5" fill="none" stroke="#ffefc0" stroke-width="4.4" stroke-linejoin="round" stroke-linecap="round"/><path d="M1453 808.3H1464.5L1469.4 802.3" fill="none" stroke="#ffefc0" stroke-width="4.4" stroke-linejoin="round" stroke-linecap="round"/><path d="M1474.4 791.8L1480.4 787.3H1491" fill="none" stroke="#ffefc0" stroke-width="4.4" stroke-linejoin="round"/><path d="M1446.5 788.2L1455.2 780.8V795Z" fill="#ffefc0"/><path d="M1498.6 788.2L1490.2 780.8V795Z" fill="#ffefc0"/></g><g transform="translate(0,0)"><path d="M1454.5 787.3H1465.3L1480.3 808H1493.5" fill="none" stroke="#fffdf2" stroke-width="4.4" stroke-linejoin="round" stroke-linecap="round"/><path d="M1453 808.3H1464.5L1469.4 802.3" fill="none" stroke="#fffdf2" stroke-width="4.4" stroke-linejoin="round" stroke-linecap="round"/><path d="M1474.4 791.8L1480.4 787.3H1491" fill="none" stroke="#fffdf2" stroke-width="4.4" stroke-linejoin="round"/><path d="M1446.5 788.2L1455.2 780.8V795Z" fill="#fffdf2"/><path d="M1498.6 788.2L1490.2 780.8V795Z" fill="#fffdf2"/></g></g>
<path d="M1821.2 919.41 A8.36 8.36 0 0 1 1828.8 919.41 L1935.94 974.06 A8.36 8.36 0 0 1 1935.94 988.94 L1828.8 1043.59 A8.36 8.36 0 0 1 1821.2 1043.59 L1714.06 988.94 A8.36 8.36 0 0 1 1714.06 974.06 Z" fill="#fafaff" stroke="#c7cbf9" stroke-width="2.3"/>
<polygon points="1735,949.9 1825,995.8 1825,1027.4 1735,981.5" fill="url(#gL2)"/>
<polygon points="1915,949.9 1825,995.8 1825,1027.4 1915,981.5" fill="url(#gR2)"/>
<polygon points="1735,902.5 1825,948.4 1825,995.8 1735,949.9" fill="url(#gL)"/>
<polygon points="1915,902.5 1825,948.4 1825,995.8 1915,949.9" fill="url(#gR)"/>
<polygon points="1825,856.6 1915,902.5 1825,948.4 1735,902.5" fill="url(#gT)"/>
<g><g transform="translate(0,-3.6)" opacity="0.22"><rect x="1774.1" y="817.1" width="102.4" height="70.1" rx="4.2" fill="url(#gi9)"/><rect x="1774.1" y="895.3" width="102.4" height="24.5" rx="4.2" fill="url(#gi9)"/></g><rect x="1774.1" y="817.1" width="102.4" height="70.1" rx="4.2" fill="url(#gi9)"/><rect x="1774.1" y="895.3" width="102.4" height="24.5" rx="4.2" fill="url(#gi9)"/><path d="M1787.6 855H1803.8L1816.1 872.6L1833.8 833.2L1849.9 858.8H1862.8" fill="none" stroke-width="7.3" stroke-linecap="round" stroke-linejoin="round" stroke="#fdeec6" transform="translate(0,1.6)"/><path d="M1787.6 855H1803.8L1816.1 872.6L1833.8 833.2L1849.9 858.8H1862.8" fill="none" stroke-width="7.3" stroke-linecap="round" stroke-linejoin="round" stroke="#fffdf4"/><rect x="1785" y="903.5" width="42.8" height="8.3" rx="4.1" fill="#fdeec6"/><rect x="1785" y="903.5" width="42.8" height="6.7" rx="3.4" fill="#f4efe6"/><circle cx="1848" cy="907.7" r="4" fill="#f1e6cf"/><circle cx="1861.7" cy="907.7" r="4" fill="#f1e6cf"/></g>
<path d="M997.17 1025.49 A9.09 9.09 0 0 1 1005.43 1025.49 L1125.84 1086.9 A9.09 9.09 0 0 1 1125.84 1103.1 L1005.43 1164.51 A9.09 9.09 0 0 1 997.17 1164.51 L876.76 1103.1 A9.09 9.09 0 0 1 876.76 1086.9 Z" fill="#ebeefe" stroke="#c7cbf9" stroke-width="2.3"/>
<polygon points="901.3,1059.4 1001.3,1110.4 1001.3,1146 901.3,1095" fill="url(#gL2)"/>
<polygon points="1101.3,1059.4 1001.3,1110.4 1001.3,1146 1101.3,1095" fill="url(#gR2)"/>
<polygon points="901.3,1006 1001.3,1057 1001.3,1110.4 901.3,1059.4" fill="url(#gL)"/>
<polygon points="1101.3,1006 1001.3,1057 1001.3,1110.4 1101.3,1059.4" fill="url(#gR)"/>
<polygon points="1001.3,955 1101.3,1006 1001.3,1057 901.3,1006" fill="url(#gT)"/>
<g><g transform="translate(0,-4)" opacity="0.2"><rect x="949.2" y="909.2" width="41.9" height="5.3" rx="2.6" fill="url(#gi16)"/><rect x="1013.3" y="909.2" width="41.7" height="5.3" rx="2.6" fill="url(#gi16)"/><rect x="965.9" y="913.5" width="7.7" height="9.5" rx="0" fill="url(#gi16)"/><rect x="1030.3" y="913.5" width="7.7" height="9.5" rx="0" fill="url(#gi16)"/><path d="M963.2 924.6Q963 921.8 966 921.8H1038Q1041 921.8 1040.8 924.6Q1040.6 926.6 1038.5 927.2L1012 934.5H992L965.5 927.2Q963.4 926.6 963.2 924.6Z" fill="url(#gi16)"/><ellipse cx="1002" cy="930.2" rx="12.6" ry="14.3" fill="url(#gi16)"/><path d="M989.5 934.8L977 943.2V952.6" fill="none" stroke="url(#gi16)" stroke-width="6.2" stroke-linecap="round" stroke-linejoin="round"/><path d="M1014.5 934.8L1027.4 943.2V952.6" fill="none" stroke="url(#gi16)" stroke-width="6.2" stroke-linecap="round" stroke-linejoin="round"/><path d="M946.1 960.2A4 4 0 0 1 950.1 956.2H960.8V973.4H1043.3V956.2H1053.9A4 4 0 0 1 1057.9 960.2V989.8A4 4 0 0 1 1053.9 993.8H950.1A4 4 0 0 1 946.1 989.8Z" fill="url(#gi16)"/><rect x="980.1" y="962.1" width="43.9" height="41" rx="4.5" fill="url(#gi16)"/></g><rect x="949.2" y="909.2" width="41.9" height="5.3" rx="2.6" fill="url(#gi16)"/><rect x="1013.3" y="909.2" width="41.7" height="5.3" rx="2.6" fill="url(#gi16)"/><rect x="965.9" y="913.5" width="7.7" height="9.5" rx="0" fill="url(#gi16)"/><rect x="1030.3" y="913.5" width="7.7" height="9.5" rx="0" fill="url(#gi16)"/><path d="M963.2 924.6Q963 921.8 966 921.8H1038Q1041 921.8 1040.8 924.6Q1040.6 926.6 1038.5 927.2L1012 934.5H992L965.5 927.2Q963.4 926.6 963.2 924.6Z" fill="url(#gi16)"/><ellipse cx="1002" cy="930.2" rx="12.6" ry="14.3" fill="url(#gi16)"/><path d="M989.5 934.8L977 943.2V952.6" fill="none" stroke="url(#gi16)" stroke-width="6.2" stroke-linecap="round" stroke-linejoin="round"/><path d="M1014.5 934.8L1027.4 943.2V952.6" fill="none" stroke="url(#gi16)" stroke-width="6.2" stroke-linecap="round" stroke-linejoin="round"/><path d="M946.1 960.2A4 4 0 0 1 950.1 956.2H960.8V973.4H1043.3V956.2H1053.9A4 4 0 0 1 1057.9 960.2V989.8A4 4 0 0 1 1053.9 993.8H950.1A4 4 0 0 1 946.1 989.8Z" fill="url(#gi16)"/><rect x="980.1" y="962.1" width="43.9" height="41" rx="4.5" fill="url(#gi16)"/><circle cx="1002" cy="937" r="3" fill="#e1e4fc"/></g>
<path d="M240.95 1032.53 A8.48 8.48 0 0 1 248.65 1032.53 L349.67 1084.05 A8.48 8.48 0 0 1 349.67 1099.15 L248.65 1150.67 A8.48 8.48 0 0 1 240.95 1150.67 L139.93 1099.15 A8.48 8.48 0 0 1 139.93 1084.05 Z" fill="#ebeefe" stroke="#c7cbf9" stroke-width="2.3"/>
<polygon points="164.8,1063.76 244.8,1104.56 244.8,1132.4 164.8,1091.6" fill="url(#gL2)"/>
<polygon points="324.8,1063.76 244.8,1104.56 244.8,1132.4 324.8,1091.6" fill="url(#gR2)"/>
<polygon points="164.8,1022 244.8,1062.8 244.8,1104.56 164.8,1063.76" fill="url(#gL)"/>
<polygon points="324.8,1022 244.8,1062.8 244.8,1104.56 324.8,1063.76" fill="url(#gR)"/>
<polygon points="244.8,981.2 324.8,1022 244.8,1062.8 164.8,1022" fill="url(#gT)"/>
<g><g transform="translate(0,-3.6)" opacity="0.22"><path d="M224.7 924.4H265.3A6.4 6.4 0 0 1 271.7 930.8V1014A6.4 6.4 0 0 1 265.3 1020.4H224.7A6.4 6.4 0 0 1 218.3 1014V930.8A6.4 6.4 0 0 1 224.7 924.4ZM221.8 940.4V1004H268.2V940.4Z" fill="url(#gi4)" fill-rule="evenodd"/></g><path d="M224.7 924.4H265.3A6.4 6.4 0 0 1 271.7 930.8V1014A6.4 6.4 0 0 1 265.3 1020.4H224.7A6.4 6.4 0 0 1 218.3 1014V930.8A6.4 6.4 0 0 1 224.7 924.4ZM221.8 940.4V1004H268.2V940.4Z" fill="url(#gi4)" fill-rule="evenodd"/><rect x="238.4" y="931" width="13.2" height="3" rx="1.5" fill="#fff1c9"/><circle cx="245" cy="1012.2" r="4.6" fill="#fff1c9"/></g>
<path d="M1300.47 1179.69 A9.09 9.09 0 0 1 1308.73 1179.69 L1429.14 1241.1 A9.09 9.09 0 0 1 1429.14 1257.3 L1308.73 1318.71 A9.09 9.09 0 0 1 1300.47 1318.71 L1180.06 1257.3 A9.09 9.09 0 0 1 1180.06 1241.1 Z" fill="#ebeefe" stroke="#c7cbf9" stroke-width="2.3"/>
<polygon points="1204.6,1213.6 1304.6,1264.6 1304.6,1300.2 1204.6,1249.2" fill="url(#gL2)"/>
<polygon points="1404.6,1213.6 1304.6,1264.6 1304.6,1300.2 1404.6,1249.2" fill="url(#gR2)"/>
<polygon points="1204.6,1160.2 1304.6,1211.2 1304.6,1264.6 1204.6,1213.6" fill="url(#gL)"/>
<polygon points="1404.6,1160.2 1304.6,1211.2 1304.6,1264.6 1404.6,1213.6" fill="url(#gR)"/>
<polygon points="1304.6,1109.2 1404.6,1160.2 1304.6,1211.2 1204.6,1160.2" fill="url(#gT)"/>
<g><g transform="translate(0,-4.4)" opacity="0.2"><path d="M1254.3 1079.4A74.41 74.41 0 0 1 1357.3 1079.4" fill="none" stroke="url(#gi17)" stroke-width="8.9" stroke-linecap="round"/><path d="M1270.5 1094.7A48.26 48.26 0 0 1 1341 1094.7" fill="none" stroke="url(#gi17)" stroke-width="8.9" stroke-linecap="round"/><path d="M1286.3 1109A27.42 27.42 0 0 1 1325.8 1109" fill="none" stroke="url(#gi17)" stroke-width="8.9" stroke-linecap="round"/><text x="1305.4" y="1165.2" font-size="57.5" font-weight="700" fill="url(#gi17)" text-anchor="middle" textLength="73.5" lengthAdjust="spacingAndGlyphs">5G</text></g><path d="M1254.3 1079.4A74.41 74.41 0 0 1 1357.3 1079.4" fill="none" stroke="url(#gi17)" stroke-width="8.9" stroke-linecap="round"/><path d="M1270.5 1094.7A48.26 48.26 0 0 1 1341 1094.7" fill="none" stroke="url(#gi17)" stroke-width="8.9" stroke-linecap="round"/><path d="M1286.3 1109A27.42 27.42 0 0 1 1325.8 1109" fill="none" stroke="url(#gi17)" stroke-width="8.9" stroke-linecap="round"/><text x="1305.4" y="1165.2" font-size="57.5" font-weight="700" fill="url(#gi17)" text-anchor="middle" textLength="73.5" lengthAdjust="spacingAndGlyphs">5G</text></g>
<text transform="matrix(0.9 0.46 -0.9 0.46 116.2 485.1)" font-size="29" text-anchor="middle" dominant-baseline="central" fill="#2a3abc" font-weight="350">各种挂载</text>
<text transform="matrix(0.9 0.46 -0.9 0.46 167.7 790)" font-size="29" text-anchor="middle" dominant-baseline="central" fill="#2a3abc" font-weight="350">无人机</text>
<text transform="matrix(0.9 0.46 -0.9 0.46 471 944.7)" font-size="29" text-anchor="middle" dominant-baseline="central" fill="#2a3abc" font-weight="350">遥控器</text>
<text transform="matrix(0.9 0.46 -0.9 0.46 151.5 1141.7)" font-size="25.8" text-anchor="middle" dominant-baseline="central" fill="#2a3abc" font-weight="350">移动端</text>
<text transform="matrix(0.9 0.46 -0.9 0.46 673.2 628.6)" font-size="25.8" text-anchor="middle" dominant-baseline="central" fill="#2a3abc" font-weight="350">基站</text>
<text transform="matrix(0.9 0.46 -0.9 0.46 1168.7 532.2)" font-size="25.8" text-anchor="middle" dominant-baseline="central" fill="#2a3abc" font-weight="350">无人机管控云平台</text>
<text transform="matrix(0.9 0.46 -0.9 0.46 1507.9 707.2)" font-size="25.8" text-anchor="middle" dominant-baseline="central" fill="#2a3abc" font-weight="350">数据中台</text>
<text transform="matrix(0.9 0.46 -0.9 0.46 1378.5 986.2)" font-size="25.8" text-anchor="middle" dominant-baseline="central" fill="#2a3abc" font-weight="350">交换机</text>
<text transform="matrix(0.9 0.46 -0.9 0.46 1732 1041.1)" font-size="29" text-anchor="middle" dominant-baseline="central" fill="#2a3abc" font-weight="350">其他设备</text>
<text transform="matrix(0.9 0.46 -0.9 0.46 2039.5 824.7)" font-size="25.8" text-anchor="middle" dominant-baseline="central" fill="#2a3abc" font-weight="350">数字孪生指挥中心</text>
<text transform="matrix(0.9 0.46 -0.9 0.46 1511.2 270)" font-size="29" text-anchor="middle" dominant-baseline="central" fill="#2a3abc" font-weight="350">指挥调度中心</text>
<text transform="matrix(0.9 0.46 -0.9 0.46 1879.5 316)" font-size="25.8" text-anchor="middle" dominant-baseline="central" fill="#2a3abc" font-weight="350"><tspan font-size="0.94em">WEB</tspan>业务平台</text>
<text transform="matrix(0.9 0.46 -0.9 0.46 1664.2 425.2)" font-size="25.8" text-anchor="middle" dominant-baseline="central" fill="#2a3abc" font-weight="350"><tspan font-size="0.94em">APP</tspan>飞手端</text>
<text transform="matrix(0.9 0.46 -0.9 0.46 1915 552)" font-size="25.8" text-anchor="middle" dominant-baseline="central" fill="#2a3abc" font-weight="350">便捷移动端</text>
<text transform="matrix(0.9 0.46 -0.9 0.46 2129 445.5)" font-size="25.8" text-anchor="middle" dominant-baseline="central" fill="#2a3abc" font-weight="350">指挥车</text>
<text transform="matrix(0.9 0.46 -0.9 0.46 888 1156.2)" font-size="29" text-anchor="middle" dominant-baseline="central" fill="#2a3abc" font-weight="350">自动机场</text>
<text transform="matrix(0.9 0.46 -0.9 0.46 1191 1310)" font-size="29" text-anchor="middle" dominant-baseline="central" fill="#2a3abc" font-weight="350"><tspan font-size="0.94em">5G</tspan>模块</text>
<path d="M2060 1312.5H2236" stroke="#5ceec6" stroke-width="3" fill="none"/>
<path d="M2060 1388.5H2236" stroke="#5ceec6" stroke-width="3" fill="none" stroke-dasharray="12 8" stroke-dashoffset="6"/>
<g filter="url(#fAA)"><text x="2256" y="1327" font-size="36" fill="#3b55d6">有线连接</text>
<text x="2256" y="1403" font-size="36" fill="#3b55d6">无线连接</text></g>
</svg></body></html>
